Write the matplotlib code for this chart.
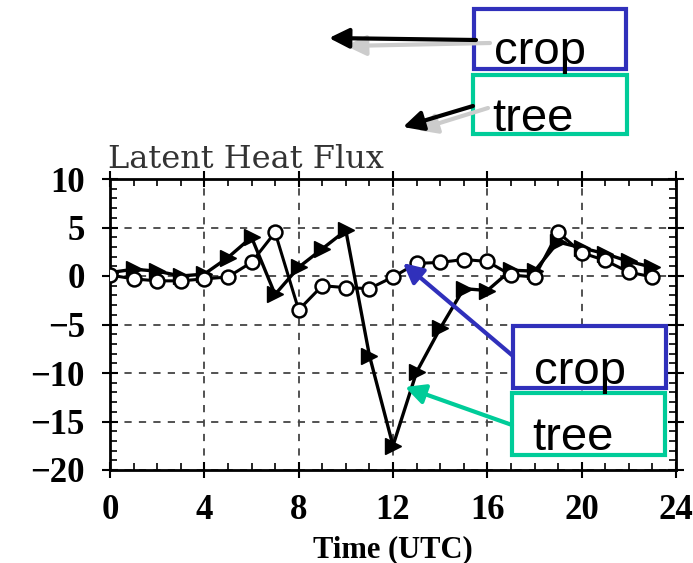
import matplotlib
matplotlib.use("Agg")
import matplotlib.pyplot as plt
from matplotlib.ticker import MultipleLocator
from matplotlib.patches import Rectangle, FancyArrowPatch

hours = list(range(24))
crop = [0.1, -0.3, -0.5, -0.5, -0.3, -0.1, 1.4, 4.5, -3.5, -1.0, -1.2, -1.3,
        -0.1, 1.3, 1.4, 1.7, 1.5, 0.1, -0.1, 4.5, 2.4, 1.6, 0.4, -0.1]
tree = [0.35, 0.7, 0.5, 0.0, 0.2, 1.9, 4.0, -1.9, 0.9, 2.8, 4.7, -8.2,
        -17.5, -9.9, -5.4, -1.3, -1.5, 0.6, 0.5, 3.5, 2.9, 2.3, 1.5, 0.9]
xticks = [0, 4, 8, 12, 16, 20, 24]
yticks = [10, 5, 0, -5, -10, -15, -20]
ytick_labels = ["10", "5", "0", "\u22125", "\u221210", "\u221215", "\u221220"]

W, H = 693, 563
fig = plt.figure(figsize=(W / 100, H / 100), dpi=100)
ax = fig.add_axes([110 / W, 1 - 470 / H, 566 / W, 291 / H])

ax.plot(hours, tree, color="black", lw=2.4, marker=">", ms=12,
        markerfacecolor="black", markeredgecolor="black", zorder=3)
ax.plot(hours, crop, color="black", lw=2.2, marker="o", ms=10,
        markerfacecolor="white", markeredgecolor="black", markeredgewidth=1.8, zorder=4)

ax.set_xlim(0, 24)
ax.set_ylim(-20, 10)
ax.set_xticks(xticks)
ax.set_yticks(yticks)
ax.set_yticklabels(ytick_labels)
ax.xaxis.set_minor_locator(MultipleLocator(1))
ax.yaxis.set_minor_locator(MultipleLocator(1))
ax.tick_params(which="major", direction="inout", length=12, width=1.5,
               top=True, right=True, labelsize=25)
ax.tick_params(axis="x", which="major", pad=11)
ax.tick_params(axis="y", which="major", pad=12)
ax.tick_params(which="minor", direction="in", length=5, width=1.2,
               top=True, right=True)
for lab in ax.get_xticklabels() + ax.get_yticklabels():
    lab.set_fontweight("bold")
    lab.set_family("Liberation Serif")
for s in ax.spines.values():
    s.set_linewidth(2)
ax.grid(True, which="major", color="#444444", ls=(0, (4, 4)), lw=1.3)

ax.set_xlabel("Time (UTC)", family="Liberation Serif", fontsize=22,
              fontweight="bold", labelpad=6)
fig.text(108 / W, 1 - 168 / H, "Latent Heat Flux", family="DejaVu Serif",
         fontsize=23, color="#333333", va="baseline", ha="left")


def P(x, y):
    return (x / W, 1 - y / H)


blue = "#3030BB"
green = "#00CC99"


def box(x0, y0, x1, y1, color):
    r = Rectangle(P(x0, y1), (x1 - x0) / W, (y1 - y0) / H, transform=fig.transFigure,
                  facecolor="white", edgecolor=color, lw=3, zorder=10)
    fig.add_artist(r)


def arrow(p0, p1, color, lw=3, zorder=11):
    a = FancyArrowPatch(P(*p0), P(*p1), transform=fig.transFigure,
                        arrowstyle="-|>,head_length=12,head_width=6",
                        mutation_scale=1, color=color, lw=lw, zorder=zorder,
                        shrinkA=0, shrinkB=0)
    fig.add_artist(a)


def label(x, y, s):
    fig.text(x / W, 1 - y / H, s, family="Liberation Sans", fontsize=34,
             va="baseline", ha="left", zorder=12)


# top boxes
box(474, 9, 626, 69, blue)
box(473, 75, 627, 134, green)
arrow((490, 43), (346, 46), "#CCCCCC")
arrow((476, 40), (329, 38), "black")
arrow((488, 108), (417, 130), "#CCCCCC")
arrow((473, 106), (403, 127), "black")
label(494, 64, "crop")
label(492, 131, "tree")

# lower boxes
box(513, 326, 666, 388, blue)
box(512, 393, 665, 455, green)
arrow((513, 356), (403, 263), blue)
arrow((512, 425), (405, 387), green)
label(534, 384, "crop")
label(532, 450, "tree")

fig.savefig("out.png", dpi=100)
